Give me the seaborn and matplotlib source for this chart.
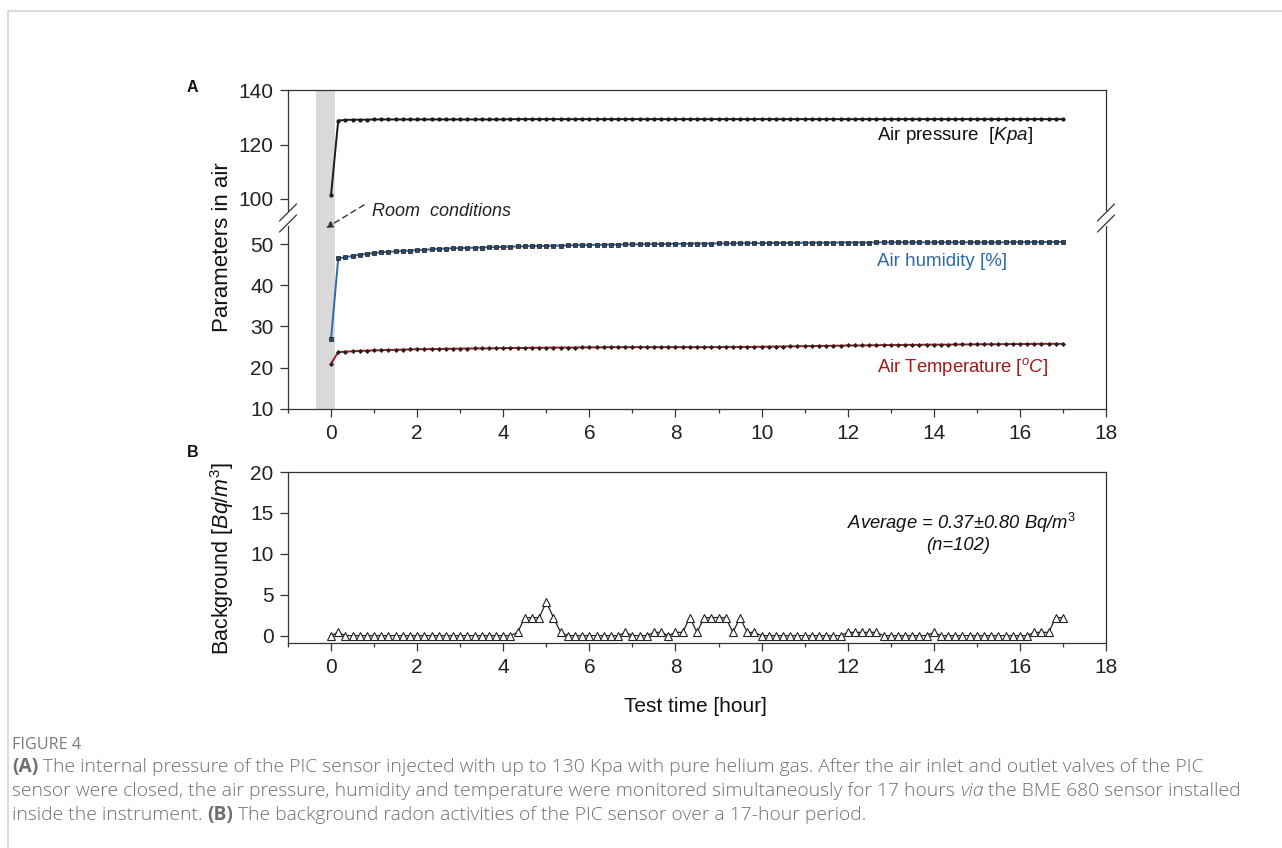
import numpy as np
import seaborn as sns
import matplotlib.pyplot as plt
from matplotlib.lines import Line2D
from matplotlib.ticker import MultipleLocator

# readings every 10 minutes over the 17 hour run
hours = np.arange(103) / 6

pressure = [101.5, 128.8, 129.0, 129.1, 129.1, 129.1, 129.2, 129.2, 129.2, 129.2,
            129.2, 129.2, 129.2, 129.2, 129.2, 129.2, 129.2, 129.2, 129.2, 129.2,
            129.2, 129.2, 129.2, 129.2, 129.2, 129.3, 129.3, 129.3, 129.3, 129.3,
            129.3, 129.3, 129.3, 129.3, 129.3, 129.3, 129.3, 129.3, 129.3, 129.3,
            129.3, 129.3, 129.3, 129.3, 129.3, 129.3, 129.3, 129.3, 129.3, 129.3,
            129.3, 129.3, 129.3, 129.3, 129.3, 129.3, 129.3, 129.3, 129.3, 129.3,
            129.3, 129.3, 129.3, 129.3, 129.3, 129.3, 129.3, 129.3, 129.3, 129.3,
            129.3, 129.3, 129.3, 129.3, 129.3, 129.3, 129.3, 129.3, 129.3, 129.3,
            129.3, 129.3, 129.3, 129.3, 129.3, 129.3, 129.3, 129.3, 129.3, 129.3,
            129.3, 129.3, 129.3, 129.3, 129.3, 129.3, 129.3, 129.3, 129.3, 129.3,
            129.3, 129.3, 129.3]

humidity = [27.0, 46.5, 46.8, 47.1, 47.4, 47.6, 47.8, 48.0, 48.1, 48.2,
            48.3, 48.4, 48.5, 48.6, 48.7, 48.8, 48.9, 48.95, 49.0, 49.05,
            49.1, 49.15, 49.2, 49.25, 49.3, 49.35, 49.4, 49.45, 49.5, 49.5,
            49.55, 49.6, 49.6, 49.65, 49.7, 49.7, 49.75, 49.8, 49.8, 49.85,
            49.85, 49.9, 49.9, 49.95, 49.95, 50.0, 50.0, 50.0, 50.05, 50.05,
            50.05, 50.1, 50.1, 50.1, 50.15, 50.15, 50.15, 50.2, 50.2, 50.2,
            50.2, 50.25, 50.25, 50.25, 50.25, 50.3, 50.3, 50.3, 50.3, 50.3,
            50.35, 50.35, 50.35, 50.35, 50.35, 50.35, 50.4, 50.4, 50.4, 50.4,
            50.4, 50.4, 50.4, 50.4, 50.4, 50.4, 50.4, 50.4, 50.4, 50.4,
            50.4, 50.4, 50.4, 50.4, 50.4, 50.45, 50.45, 50.45, 50.45, 50.45,
            50.5, 50.5, 50.5]

temperature = [21.0, 23.8, 23.9, 24.0, 24.1, 24.15, 24.2, 24.25, 24.3, 24.35,
               24.4, 24.45, 24.5, 24.5, 24.55, 24.55, 24.6, 24.6, 24.65, 24.65,
               24.7, 24.7, 24.7, 24.75, 24.75, 24.8, 24.8, 24.8, 24.85, 24.85,
               24.85, 24.9, 24.9, 24.9, 24.9, 24.95, 24.95, 24.95, 24.95, 25.0,
               25.0, 25.0, 25.0, 25.0, 25.0, 25.0, 25.0, 25.0, 25.0, 25.0,
               25.0, 25.0, 25.0, 25.0, 25.0, 25.05, 25.05, 25.05, 25.05, 25.05,
               25.1, 25.1, 25.15, 25.15, 25.2, 25.2, 25.25, 25.25, 25.3, 25.3,
               25.35, 25.35, 25.4, 25.4, 25.4, 25.45, 25.45, 25.5, 25.5, 25.5,
               25.55, 25.55, 25.55, 25.6, 25.6, 25.6, 25.6, 25.65, 25.65, 25.65,
               25.7, 25.7, 25.7, 25.7, 25.75, 25.75, 25.75, 25.75, 25.8, 25.8,
               25.8, 25.8, 25.8]

background = [0, 0.4, 0, 0, 0, 0, 0, 0, 0, 0,
              0, 0, 0, 0, 0, 0, 0, 0, 0, 0,
              0, 0, 0, 0, 0, 0, 0.4, 2.2, 2.2, 2.2,
              4.1, 2.2, 0.4, 0, 0, 0, 0, 0, 0, 0,
              0, 0.4, 0, 0, 0, 0.4, 0.4, 0, 0.4, 0.4,
              2.2, 0.4, 2.2, 2.2, 2.2, 2.2, 0.4, 2.2, 0.4, 0.4,
              0, 0, 0, 0, 0, 0, 0, 0, 0, 0,
              0, 0, 0.4, 0.4, 0.4, 0.4, 0.4, 0, 0, 0,
              0, 0, 0, 0, 0.4, 0, 0, 0, 0, 0,
              0, 0, 0, 0, 0, 0, 0, 0, 0.4, 0.4,
              0.4, 2.2, 2.2]

x_ticks = [0, 2, 4, 6, 8, 10, 12, 14, 16, 18]
y_ticks_a = [10, 20, 30, 40, 50, 100, 120, 140]
y_ticks_b = [0, 5, 10, 15, 20]

BLUE = "#2f6aa8"
RED = "#a3191c"
INK = "#222222"

sns.set_theme(style="ticks")
plt.rcParams["font.family"] = ["Liberation Sans", "DejaVu Sans"]
plt.rcParams["mathtext.fontset"] = "custom"
plt.rcParams["mathtext.rm"] = "Liberation Sans"
plt.rcParams["mathtext.it"] = "Liberation Sans:italic"

W, H = 1282, 848
fig = plt.figure(figsize=(W / 100, H / 100), dpi=100)
fig.patch.set_facecolor("white")


def fx(x):
    return x / W


def fy(y):
    return 1 - y / H


# broken y axis for panel A: a piecewise linear scale (in pixel units)
def fwd(y):
    y = np.asarray(y, dtype=float)
    return np.where(y <= 55, (y - 10) * 4.125,
                    np.where(y >= 96, 210 + (y - 100) * 2.725,
                             185.6 + (y - 55) * 13.5 / 41))


def inv(p):
    p = np.asarray(p, dtype=float)
    return np.where(p <= 185.6, p / 4.125 + 10,
                    np.where(p >= 199.1, (p - 210) / 2.725 + 100,
                             55 + (p - 185.6) * 41 / 13.5))


ax1 = fig.add_axes([fx(288), fy(409), 818 / W, 319 / H])
ax2 = fig.add_axes([fx(288), fy(643), 818 / W, 171 / H])

ax1.set_yscale("function", functions=(fwd, inv))
ax1.axvspan(-0.36, 0.09, color="#d9d9d9", lw=0, zorder=0)

sns.lineplot(x=hours, y=pressure, ax=ax1, color="#1a1a1a", lw=1.4,
             marker="o", markersize=3, markeredgewidth=0, markerfacecolor="#1a1a1a")
sns.lineplot(x=hours, y=humidity, ax=ax1, color=BLUE, lw=1.4,
             marker="s", markersize=2.6, markeredgewidth=0.5,
             markeredgecolor="#1a1a1a", markerfacecolor="#33475e")
sns.lineplot(x=hours, y=temperature, ax=ax1, color=RED, lw=1.4,
             marker="D", markersize=2.6, markeredgewidth=0, markerfacecolor="#222222")

sns.lineplot(x=hours, y=background, ax=ax2, color=INK, lw=0.9,
             marker="^", markersize=6, markeredgewidth=0.8,
             markeredgecolor=INK, markerfacecolor="white")

for ax in (ax1, ax2):
    ax.set_xlim(-1, 18)
    ax.set_xticks(x_ticks)
    ax.xaxis.set_minor_locator(MultipleLocator(1))
    ax.tick_params(axis="both", which="major", direction="out", length=5.5, width=0.9,
                   color="#333333", labelsize=15, labelcolor="#222222", pad=5)
    ax.tick_params(axis="x", which="minor", direction="out", length=2.8, width=0.9,
                   color="#333333")
    for s in ax.spines.values():
        s.set_visible(True)
        s.set_color("#333333")
        s.set_linewidth(0.9)
    ax.set_xlabel("")
    ax.set_ylabel("")

ax1.set_ylim(10, 140)
ax1.set_yticks(y_ticks_a)
ax1.yaxis.set_minor_locator(plt.NullLocator())
ax2.set_ylim(-0.9, 20)
ax2.set_yticks(y_ticks_b)
ax2.tick_params(axis="y", which="minor", length=0)

# axis break marks on both sides of panel A
for xb in (288, 1106):
    fig.add_artist(Line2D([fx(xb), fx(xb)], [fy(213), fy(224)], color="white",
                          lw=3, zorder=10))
    for dy in (0, 11):
        fig.add_artist(Line2D([fx(xb - 8.5), fx(xb + 8.5)],
                              [fy(221 + dy), fy(204 + dy)],
                              color="#333333", lw=0.9, zorder=11))

# room conditions annotation
ax1.annotate("", xy=(326, H - 228), xycoords="figure pixels",
             xytext=(364, H - 205), textcoords="figure pixels",
             arrowprops=dict(arrowstyle="-|>", ls=(0, (4, 3)), lw=1.0,
                             color="#333333", shrinkA=0, shrinkB=0,
                             mutation_scale=10))
fig.text(fx(372), fy(212), "Room  conditions", style="italic", fontsize=13,
         color="#222222", va="center", ha="left")

# series labels
fig.text(fx(877), fy(136), "Air pressure  [$\\mathit{Kpa}$]", fontsize=13.5,
         color="#111111", va="center")
fig.text(fx(877), fy(262), "Air humidity [%]", fontsize=13.5, color=BLUE, va="center")
fig.text(fx(877), fy(367), "Air Temperature [$^{o}\\mathit{C}$]", fontsize=13.3,
         color=RED, va="center")

fig.text(fx(961), fy(523), "Average = 0.37±0.80 Bq/m$^{3}$", style="italic",
         fontsize=13.2, color="#111111", ha="center", va="center")
fig.text(fx(958), fy(546), "(n=102)", style="italic", fontsize=13.2,
         color="#111111", ha="center", va="center")

# axis titles and panel letters
fig.text(fx(222), fy(247), "Parameters in air", rotation=90, fontsize=16,
         color="#111111", ha="center", va="center")
fig.text(fx(222), fy(558), "Background $\\mathit{[Bq/m^{3}]}$", rotation=90,
         fontsize=15.5, color="#111111", ha="center", va="center")
fig.text(fx(695), fy(706), "Test time [hour]", fontsize=15, color="#111111",
         ha="center", va="center")
fig.text(fx(192), fy(87), "A", fontsize=11.5, weight="bold", color="#111111",
         ha="center", va="center")
fig.text(fx(193), fy(452), "B", fontsize=11.5, weight="bold", color="#111111",
         ha="center", va="center")

# page frame lines
fig.add_artist(Line2D([fx(8), 1], [fy(11), fy(11)], color="#d6d6d6", lw=1.2))
fig.add_artist(Line2D([fx(8), fx(8)], [fy(11), 0], color="#d6d6d6", lw=1.2))

# caption
renderer = fig.canvas.get_renderer()
CAP = "#6f6f6f"
fig.text(fx(12), fy(745), "FIGURE 4", family="Open Sans", fontsize=11.6,
         color="#7a7a7a", va="center")

caption_lines = [
    (767, [("(A)", "bold", "normal"),
           (" The internal pressure of the PIC sensor injected with up to 130 Kpa with pure "
            "helium gas. After the air inlet and outlet valves of the PIC", "light", "normal")]),
    (791, [("sensor were closed, the air pressure, humidity and temperature were monitored "
            "simultaneously for 17 hours ", "light", "normal"),
           ("via", "light", "italic"),
           (" the BME 680 sensor installed", "light", "normal")]),
    (815, [("inside the instrument. ", "light", "normal"),
           ("(B)", "bold", "normal"),
           (" The background radon activities of the PIC sensor over a 17-hour period.",
            "light", "normal")]),
]
for y, parts in caption_lines:
    x = 12
    for txt, weight, style in parts:
        t = fig.text(fx(x), fy(y), txt, family="Open Sans", fontsize=13.85,
                     weight=weight, style=style, color=CAP, va="center")
        x += t.get_window_extent(renderer).width

fig.savefig("out.png", dpi=100, facecolor="white")
